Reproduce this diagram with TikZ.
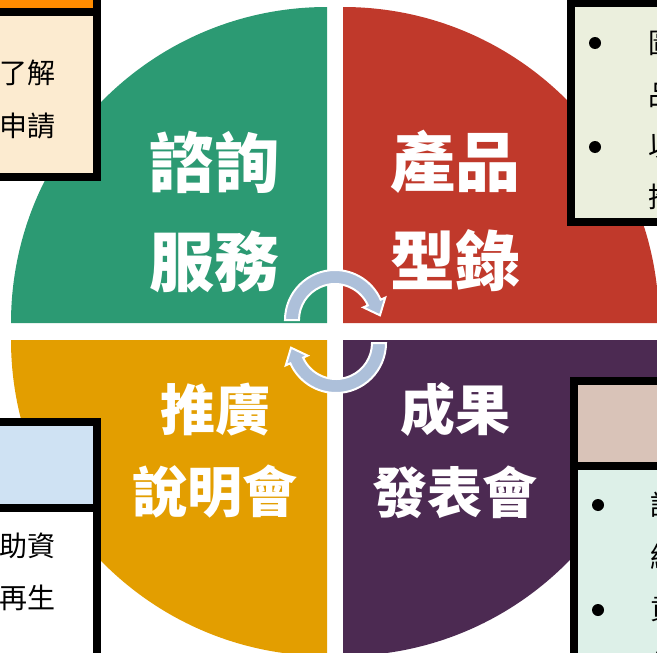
\documentclass[tikz,border=0pt]{standalone}
\usepackage{fontspec}
\newfontfamily\cjk{Noto Sans CJK TC}
\usetikzlibrary{calc}
\definecolor{qgreen}{RGB}{44,154,115}
\definecolor{qred}{RGB}{192,57,43}
\definecolor{qgold}{RGB}{227,158,0}
\definecolor{qpurple}{RGB}{76,42,82}
\definecolor{arrowblue}{RGB}{173,192,218}
\definecolor{hdorange}{RGB}{255,140,0}
\definecolor{bodycream}{RGB}{252,235,208}
\definecolor{bodysage}{RGB}{235,239,221}
\definecolor{hdtan}{RGB}{217,195,184}
\definecolor{bodymint}{RGB}{221,240,232}
\definecolor{hdblue}{RGB}{207,226,243}
\tikzset{
  biglabel/.style={text=white, inner sep=0pt, align=center, font=\cjk\bfseries\fontsize{65}{65}\selectfont},
  midlabel/.style={text=white, inner sep=0pt, align=center, font=\cjk\bfseries\fontsize{55}{55}\selectfont},
  boxtext/.style={text=black, inner sep=0pt, font=\cjk\fontsize{28}{28}\selectfont},
  boxline/.style={draw=black, line width=8pt},
  bulletdot/.style={fill=black, draw=none},
  cyclearrow/.style={fill=arrowblue, draw=white, line width=2pt, line join=miter}
}
\begin{document}
\begin{tikzpicture}[x=1pt,y=-1pt]
\useasboundingbox (0,0) rectangle (657,653);
\clip (0,0) rectangle (657,653);
% quadrants
\fill[qgreen] (327,323) -- ++(-316,0) arc[start angle=180, end angle=270, radius=316] -- cycle;
\fill[qred] (343,323) -- ++(0,-316) arc[start angle=270, end angle=360, radius=316] -- cycle;
\fill[qgold] (327,340) -- ++(-316,0) arc[start angle=180, end angle=90, radius=316] -- cycle;
\fill[qpurple] (343,340) -- ++(316,0) arc[start angle=0, end angle=90, radius=316] -- cycle;
% quadrant labels
\node[biglabel] (q1a) at (214,162) {諮詢};
\node[biglabel] (q1b) at (214,262) {服務};
\node[biglabel] (q2a) at (455,162) {產品};
\node[biglabel] (q2b) at (455,261) {型錄};
\node[midlabel] (q3a) at (215,410) {推廣};
\node[midlabel] (q3b) at (215,492) {說明會};
\node[midlabel] (q4a) at (455,410) {成果};
\node[midlabel] (q4b) at (455,492) {發表會};
% cycle arrows
\begin{scope}[shift={(335,320)}]
\path[cyclearrow] (180:50) arc[start angle=180, end angle=336, radius=50]
  -- (336:55) -- ($(336:43)+(66:14)$) -- (336:31) -- (336:36)
  arc[start angle=336, end angle=180, radius=36] -- cycle;
\end{scope}
\begin{scope}[shift={(336,343)}, rotate=180]
\path[cyclearrow] (180:50) arc[start angle=180, end angle=336, radius=50]
  -- (336:55) -- ($(336:43)+(66:14)$) -- (336:31) -- (336:36)
  arc[start angle=336, end angle=180, radius=36] -- cycle;
\end{scope}
% top-left box
\path[boxline, fill=hdorange] (-30,-60) rectangle (97,12);
\path[boxline, fill=bodycream] (-30,12) rectangle (97,177);
\node[boxtext, anchor=east] (tl1) at (56,73) {了解};
\node[boxtext, anchor=east] (tl2) at (56,126) {申請};
% top-right box
\path[boxline, fill=bodysage] (571,3) rectangle (700,222);
\fill[bulletdot] (595,43) circle (6);
\fill[bulletdot] (595,147) circle (6);
\node[boxtext, anchor=west] (tr1) at (648,43) {圖};
\node[boxtext, anchor=west] (tr2) at (648,95) {品};
\node[boxtext, anchor=west] (tr3) at (648,147) {以};
\node[boxtext, anchor=west] (tr4) at (648,197) {推};
% bottom-right box
\path[boxline, fill=hdtan] (573.5,381) rectangle (700,466);
\path[boxline, fill=bodymint] (573.5,466) rectangle (700,720);
\fill[bulletdot] (598,505) circle (6);
\fill[bulletdot] (598,610) circle (6);
\node[boxtext, anchor=west] (br1) at (650,505) {說};
\node[boxtext, anchor=west] (br2) at (650,557) {結};
\node[boxtext, anchor=west] (br3) at (650,610) {貢};
\node[boxtext, anchor=west] (br4) at (650,662) {作};
% bottom-left box
\path[boxline, fill=hdblue] (-30,422) rectangle (97,507.5);
\path[boxline, fill=white] (-30,507.5) rectangle (97,720);
\node[boxtext, anchor=east] (bl1) at (56,546) {助資};
\node[boxtext, anchor=east] (bl2) at (56,598) {再生};
\end{tikzpicture}
\end{document}
